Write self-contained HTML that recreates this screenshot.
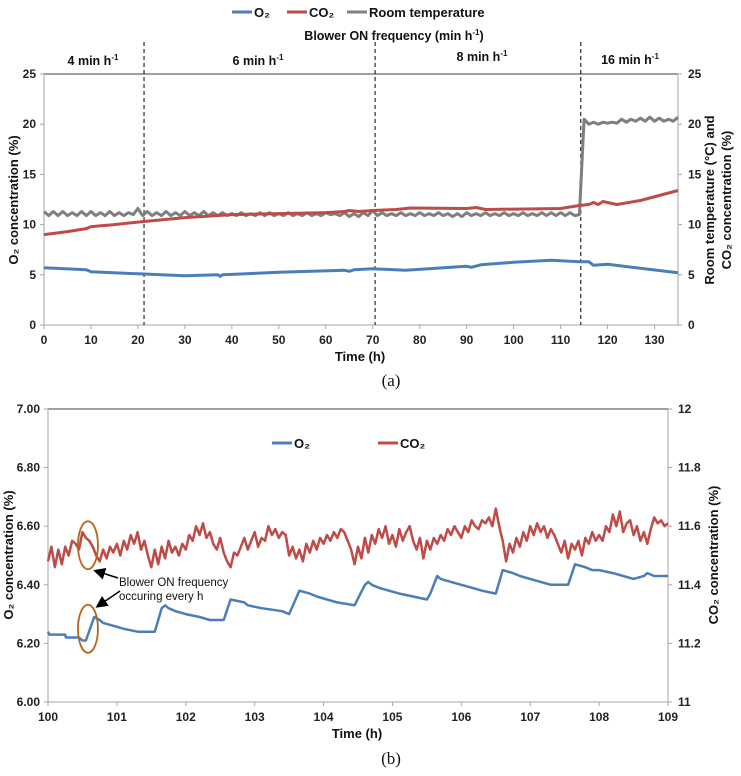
<!DOCTYPE html>
<html><head><meta charset="utf-8"><style>
body{margin:0;background:#fff;}
svg text{font-family:"Liberation Sans",sans-serif;}
</style></head><body>
<svg id="c" width="741" height="771" viewBox="0 0 741 771" xmlns="http://www.w3.org/2000/svg"></svg>
<script>
// ---- chart (a) data ----
const aO2T=[0,9,10,20,30,37,37.5,38,50,64,65,66,70,77,90,91,93,100,108,114,116,117,120,135];
const aO2V=[5.7,5.5,5.3,5.1,4.9,5.0,4.85,5.0,5.25,5.45,5.35,5.5,5.6,5.45,5.85,5.75,6.0,6.25,6.45,6.3,6.3,5.95,6.05,5.2];
const aCO2T=[0,5,9,10,15,21,30,40,50,60,64,65,67,70,75,78,90,92,94,110,114,116,117,118,119,122,127,135];
const aCO2V=[9.0,9.3,9.6,9.8,10.0,10.3,10.7,11.0,11.1,11.2,11.3,11.4,11.3,11.4,11.5,11.65,11.6,11.7,11.5,11.6,11.9,12.0,12.2,12.0,12.3,12.0,12.4,13.4];
const aTemp=[11.3,10.9,11.3,10.9,11.3,10.9,11.2,10.9,11.3,10.9,11.3,10.9,11.2,10.9,11.3,10.9,11.2,10.9,11.2,11.0,11.6,10.9,11.3,10.9,11.2,10.9,11.3,10.9,11.2,10.9,11.3,10.9,11.2,10.9,11.3,10.9,11.2,10.9,11.2,10.9,11.1,10.9,11.2,10.9,11.1,10.9,11.2,10.9,11.2,10.9,11.1,10.9,11.2,10.9,11.1,10.9,11.2,10.9,11.1,10.9,11.2,11.0,11.1,10.9,11.2,10.8,11.1,10.8,11.2,10.9,11.4,10.9,11.2,10.9,11.1,10.9,11.2,10.9,11.1,10.9,11.2,10.9,11.1,10.9,11.2,10.9,11.1,10.8,11.1,10.8,11.2,10.9,11.1,10.9,11.2,10.9,11.1,10.9,11.2,10.9,11.1,10.9,11.2,10.9,11.1,10.9,11.2,10.9,11.2,10.9,11.2,10.9,11.2,10.9,11.0,20.5,20.0,20.2,20.0,20.2,20.1,20.2,20.1,20.5,20.2,20.5,20.3,20.6,20.3,20.7,20.3,20.6,20.3,20.5,20.3,20.7];
const aXTicks=[0,10,20,30,40,50,60,70,80,90,100,110,120,130];
const aYTicks=[0,5,10,15,20,25];
const aPhaseLines=[21.3,70.5,114.3];
const aPhaseLabels=["4 min h","6 min h","8 min h","16 min h"];
// ---- chart (b) data ----
const bO2T=[100,100.02,100.25,100.26,100.45,100.5,100.55,100.67,100.75,100.8,100.95,101.1,101.3,101.55,101.65,101.7,101.75,101.85,102.0,102.2,102.35,102.55,102.65,102.85,102.9,103.1,103.4,103.5,103.65,103.8,103.9,104.05,104.2,104.45,104.6,104.65,104.7,104.8,104.95,105.1,105.3,105.5,105.55,105.65,105.7,105.85,106.0,106.15,106.3,106.5,106.6,106.75,106.85,107.0,107.15,107.3,107.55,107.65,107.8,107.9,108.0,108.2,108.35,108.5,108.65,108.7,108.8,109];
const bO2V=[6.24,6.23,6.23,6.22,6.22,6.21,6.21,6.29,6.28,6.27,6.26,6.25,6.24,6.24,6.32,6.33,6.32,6.31,6.30,6.29,6.28,6.28,6.35,6.34,6.33,6.32,6.31,6.30,6.38,6.37,6.36,6.35,6.34,6.33,6.40,6.41,6.40,6.39,6.38,6.37,6.36,6.35,6.37,6.43,6.42,6.41,6.40,6.39,6.38,6.37,6.45,6.44,6.43,6.42,6.41,6.40,6.40,6.47,6.46,6.45,6.45,6.44,6.43,6.42,6.43,6.44,6.43,6.43];
const bCO2V=[11.48,11.53,11.46,11.52,11.47,11.53,11.50,11.55,11.54,11.52,11.58,11.56,11.55,11.53,11.50,11.48,11.52,11.49,11.53,11.51,
11.54,11.50,11.55,11.52,11.57,11.54,11.58,11.52,11.55,11.50,11.46,11.52,11.47,11.53,11.49,11.55,11.51,11.53,11.50,11.54,
11.52,11.57,11.55,11.60,11.57,11.61,11.56,11.58,11.54,11.52,11.56,11.51,11.48,11.46,11.51,11.50,11.53,11.56,11.52,11.55,
11.58,11.53,11.56,11.55,11.60,11.57,11.59,11.56,11.58,11.57,11.50,11.53,11.49,11.52,11.48,11.54,11.51,11.55,11.52,11.56,
11.54,11.57,11.55,11.58,11.56,11.59,11.58,11.55,11.52,11.47,11.53,11.49,11.56,11.51,11.57,11.54,11.59,11.56,11.60,11.54,
11.57,11.53,11.59,11.55,11.58,11.60,11.55,11.52,11.56,11.49,11.55,11.52,11.56,11.54,11.57,11.55,11.59,11.57,11.60,11.58,
11.56,11.60,11.58,11.62,11.60,11.59,11.62,11.61,11.63,11.60,11.66,11.60,11.55,11.48,11.54,11.51,11.56,11.53,11.58,11.55,
11.60,11.57,11.61,11.58,11.60,11.56,11.59,11.57,11.54,11.51,11.55,11.49,11.54,11.52,11.55,11.50,11.56,11.54,11.58,11.55,
11.57,11.55,11.60,11.58,11.64,11.60,11.65,11.58,11.61,11.62,11.57,11.60,11.55,11.58,11.54,11.59,11.63,11.61,11.62,11.60,11.61];
const bXTicks=[100,101,102,103,104,105,106,107,108,109];
const bYTicks=[6.00,6.20,6.40,6.60,6.80,7.00];
const bY2Ticks=[11,11.2,11.4,11.6,11.8,12];

const NS="http://www.w3.org/2000/svg";
const svg=document.getElementById('c');
function el(tag,attrs,parent){const e=document.createElementNS(NS,tag);for(const k in attrs)e.setAttribute(k,attrs[k]);(parent||svg).appendChild(e);return e;}
function txt(s,attrs,parent){const e=el('text',attrs,parent);e.textContent=s;return e;}
const BLUE="#4a7ebb",RED="#be4b48",GRAY="#7f7f7f";

// ===== chart (a) =====
const A={x0:44,x1:678,y0:325,y1:74,tmin:0,tmax:135,vmax:25};
const ax=t=>A.x0+(t-A.tmin)/(A.tmax-A.tmin)*(A.x1-A.x0);
const ay=v=>A.y0-v/A.vmax*(A.y0-A.y1);
const ga=el('g',{});


el('line',{x1:A.x0,y1:A.y1,x2:A.x1,y2:A.y1,stroke:"#808080","stroke-width":1.5},ga);
el('line',{x1:A.x0,y1:A.y1,x2:A.x0,y2:A.y0,stroke:"#a6a6a6","stroke-width":1},ga);
el('line',{x1:A.x1,y1:A.y1,x2:A.x1,y2:A.y0,stroke:"#a6a6a6","stroke-width":1},ga);
el('line',{x1:A.x0,y1:A.y0,x2:A.x1,y2:A.y0,stroke:"#a6a6a6","stroke-width":1},ga);
aXTicks.forEach(t=>{
  el('line',{x1:ax(t),y1:A.y0,x2:ax(t),y2:A.y0+4,stroke:"#a6a6a6"},ga);
  const l=txt(String(t),{x:ax(t),y:A.y0+19,"text-anchor":"middle","font-size":12,"font-weight":"bold",fill:"#222"},ga);
  
  
});
aYTicks.forEach(v=>{
  el('line',{x1:A.x0-4,y1:ay(v),x2:A.x0,y2:ay(v),stroke:"#a6a6a6"},ga);
  el('line',{x1:A.x1,y1:ay(v),x2:A.x1+4,y2:ay(v),stroke:"#a6a6a6"},ga);
  const l=txt(String(v),{x:A.x0-8,y:ay(v)+4,"text-anchor":"end","font-size":12,"font-weight":"bold",fill:"#222"},ga);
  
  
  const r=txt(String(v),{x:A.x1+10,y:ay(v)+4,"text-anchor":"start","font-size":12,"font-weight":"bold",fill:"#222"},ga);
  
  
});
aPhaseLines.forEach(t=>{
  const d=el('line',{x1:ax(t),y1:42,x2:ax(t),y2:A.y0,stroke:"#000","stroke-width":1,"stroke-dasharray":"4,3"},ga);
  
  
});
const phaseX=[93,258,482,630],phaseY=[65,65,61,64];
aPhaseLabels.forEach((s,i)=>{
  const t=txt(s,{x:phaseX[i],y:phaseY[i],"text-anchor":"middle","font-size":12.5,"font-weight":"bold",fill:"#111"},ga);
  const sp=el('tspan',{"font-size":8,dy:-5},t);sp.textContent="-1";
  
  
});
function series(ts,vs,fx,fy,color,w,name,g){
  const pts=ts.map((t,i)=>fx(t).toFixed(1)+","+fy(vs[i]).toFixed(1)).join(" ");
  const p=el('polyline',{points:pts,fill:"none",stroke:color,"stroke-width":w,"stroke-linejoin":"round"},g);
  
  
  return p;
}
series(aTemp.map((v,i)=>i),aTemp,ax,ay,GRAY,3,'room-temperature-line',ga);
series(aCO2T,aCO2V,ax,ay,RED,3,'co2-line-a',ga);
series(aO2T,aO2V,ax,ay,BLUE,3,'o2-line-a',ga);
let t1=txt("Blower ON frequency (min h",{x:394,y:40,"text-anchor":"middle","font-size":12.5,"font-weight":"bold",fill:"#111"},ga);
let sp=el('tspan',{"font-size":8,dy:-5},t1);sp.textContent="-1";
sp=el('tspan',{dy:5},t1);sp.textContent=")";


let xt=txt("Time (h)",{x:360,y:361,"text-anchor":"middle","font-size":13,"font-weight":"bold",fill:"#111"},ga);


let yt=txt("O\u2082  concentration (%)",{x:0,y:0,transform:"translate(18,200) rotate(-90)","text-anchor":"middle","font-size":13,"font-weight":"bold",fill:"#111"},ga);


let y2a=txt("Room temperature (°C) and",{x:0,y:0,transform:"translate(714,200) rotate(-90)","text-anchor":"middle","font-size":13,"font-weight":"bold",fill:"#111"},ga);


let y2b=txt("CO\u2082 concentration (%)",{x:0,y:0,transform:"translate(731,200) rotate(-90)","text-anchor":"middle","font-size":13,"font-weight":"bold",fill:"#111"},ga);


// legend a
const legA=[[232,BLUE,"O\u2082","legend-o2"],[287,RED,"CO\u2082","legend-co2"],[347,GRAY,"Room temperature","legend-room-temperature"]];
legA.forEach(([x,c,s,n])=>{
  const g=el('g',{},ga);
  
  
  el('line',{x1:x,y1:12,x2:x+20,y2:12,stroke:c,"stroke-width":3},g);
  txt(s,{x:x+22,y:17,"font-size":13,"font-weight":"bold",fill:"#111"},g);
});
let ca=txt("(a)",{x:391,y:386,"text-anchor":"middle","font-size":17,"font-family":"Liberation Serif",fill:"#111"});
ca.setAttribute('style','font-family:"Liberation Serif",serif');



// ===== chart (b) =====
const B={x0:48,x1:668,y0:702,y1:409,tmin:100,tmax:109,vmin:6,vmax:7,v2min:11,v2max:12};
const bx=t=>B.x0+(t-B.tmin)/(B.tmax-B.tmin)*(B.x1-B.x0);
const by=v=>B.y0-(v-B.vmin)/(B.vmax-B.vmin)*(B.y0-B.y1);
const by2=v=>B.y0-(v-B.v2min)/(B.v2max-B.v2min)*(B.y0-B.y1);
const gb=el('g',{});


el('line',{x1:B.x0,y1:B.y1,x2:B.x1,y2:B.y1,stroke:"#808080","stroke-width":1.5},gb);
el('line',{x1:B.x0,y1:B.y1,x2:B.x0,y2:B.y0,stroke:"#a6a6a6"},gb);
el('line',{x1:B.x1,y1:B.y1,x2:B.x1,y2:B.y0,stroke:"#a6a6a6"},gb);
el('line',{x1:B.x0,y1:B.y0,x2:B.x1,y2:B.y0,stroke:"#a6a6a6"},gb);
bXTicks.forEach(t=>{
  el('line',{x1:bx(t),y1:B.y0,x2:bx(t),y2:B.y0+4,stroke:"#a6a6a6"},gb);
  const l=txt(String(t),{x:bx(t),y:B.y0+19,"text-anchor":"middle","font-size":12,"font-weight":"bold",fill:"#222"},gb);
  
  
});
bYTicks.forEach(v=>{
  el('line',{x1:B.x0-4,y1:by(v),x2:B.x0,y2:by(v),stroke:"#a6a6a6"},gb);
  const l=txt(v.toFixed(2),{x:B.x0-8,y:by(v)+4,"text-anchor":"end","font-size":12,"font-weight":"bold",fill:"#222"},gb);
  
  
});
bY2Ticks.forEach(v=>{
  el('line',{x1:B.x1,y1:by2(v),x2:B.x1+4,y2:by2(v),stroke:"#a6a6a6"},gb);
  const l=txt(String(v),{x:B.x1+10,y:by2(v)+4,"text-anchor":"start","font-size":12,"font-weight":"bold",fill:"#222"},gb);
  
  
});
const bCO2T=bCO2V.map((v,i)=>B.tmin+i*(B.tmax-B.tmin)/(bCO2V.length-1));
series(bCO2T,bCO2V,bx,by2,RED,2.5,'co2-line-b',gb);
series(bO2T,bO2V,bx,by,BLUE,2.5,'o2-line-b',gb);
const legB=[[272,BLUE,"O\u2082","legend-o2-b"],[378,RED,"CO\u2082","legend-co2-b"]];
legB.forEach(([x,c,s,n])=>{
  const g=el('g',{},gb);
  
  
  el('line',{x1:x,y1:443,x2:x+20,y2:443,stroke:c,"stroke-width":3},g);
  txt(s,{x:x+22,y:448,"font-size":13,"font-weight":"bold",fill:"#111"},g);
});
// annotation
const ann=el('g',{},gb);


el('ellipse',{cx:bx(100.58),cy:by2(11.535),rx:10,ry:24,fill:"none",stroke:"#b5651d","stroke-width":1.8},ann);
el('ellipse',{cx:bx(100.58),cy:by(6.25),rx:10,ry:24,fill:"none",stroke:"#b5651d","stroke-width":1.8},ann);
el('defs',{},ann).innerHTML='<marker id="ar" markerWidth="8" markerHeight="8" refX="6" refY="4" orient="auto"><path d="M0,0 L8,4 L0,8 z" fill="#000"/></marker>';
el('line',{x1:118,y1:578,x2:96,y2:571,stroke:"#000","stroke-width":1.5,"marker-end":"url(#ar)"},ann);
el('line',{x1:120,y1:591,x2:98,y2:606,stroke:"#000","stroke-width":1.5,"marker-end":"url(#ar)"},ann);
txt("Blower ON frequency",{x:119,y:586,"font-size":11.5,fill:"#111"},ann);
txt("occuring every h",{x:119,y:600,"font-size":11.5,fill:"#111"},ann);
let xtb=txt("Time (h)",{x:357,y:738,"text-anchor":"middle","font-size":13,"font-weight":"bold",fill:"#111"},gb);


let ytb=txt("O\u2082 concentration (%)",{x:0,y:0,transform:"translate(13,555) rotate(-90)","text-anchor":"middle","font-size":13,"font-weight":"bold",fill:"#111"},gb);


let y2tb=txt("CO\u2082 concentration (%)",{x:0,y:0,transform:"translate(718,555) rotate(-90)","text-anchor":"middle","font-size":13,"font-weight":"bold",fill:"#111"},gb);


let cb=txt("(b)",{x:391,y:764,"text-anchor":"middle","font-size":17,fill:"#111"});
cb.setAttribute('style','font-family:"Liberation Serif",serif');


</script>
</body></html>
